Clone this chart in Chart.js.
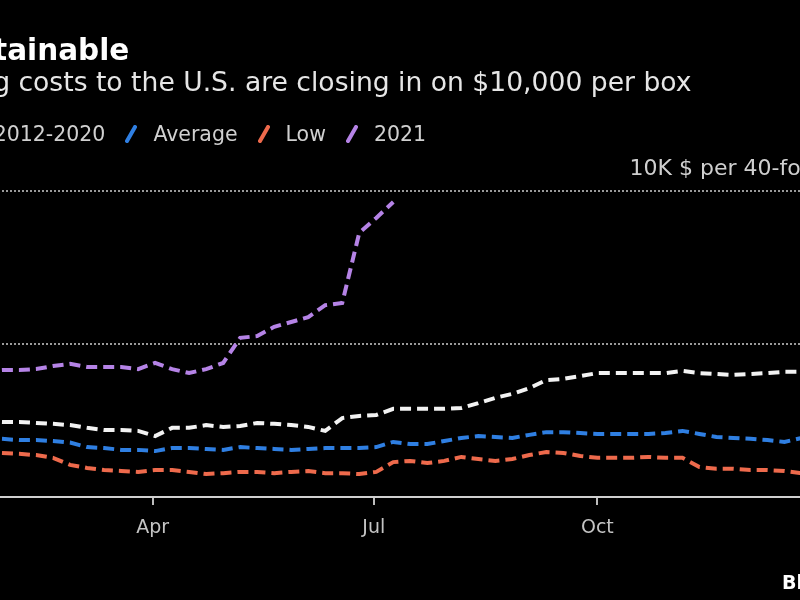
<!DOCTYPE html>
<html>
<head>
<meta charset="utf-8">
<script src="https://cdn.jsdelivr.net/npm/chart.js@4.4.1/dist/chart.umd.min.js"></script>
<style>
html, body { margin: 0; padding: 0; background: #000; }
body { width: 800px; height: 600px; overflow: hidden; position: relative; font-family: 'DejaVu Sans', sans-serif; }
#chart { position: absolute; left: -140px; top: 0; }
.title { position: absolute; left: -108px; top: 36px; font-size: 29.5px; font-weight: bold; color: #fff; line-height: 1; white-space: nowrap; }
.subtitle { position: absolute; left: -106px; top: 69px; font-size: 26.6px; color: #e6e6e6; line-height: 1; white-space: nowrap; }
#legend { position: absolute; left: -88px; top: 122px; display: flex; align-items: center; font-size: 20.5px; color: #d0d0d0; line-height: 24px; white-space: nowrap; }
.item { display: flex; align-items: center; margin-right: 20px; }
.item svg { margin-right: 16px; }
.source { position: absolute; left: 782px; top: 573px; font-size: 19px; font-weight: bold; color: #fff; line-height: 1; }
</style>
</head>
<body>
<canvas id="chart" width="1080" height="600"></canvas>
<div class="title">Unsustainable</div>
<div class="subtitle">Shipping costs to the U.S. are closing in on $10,000 per box</div>
<div id="legend"></div>
<div class="source">Bloomberg</div>
<script>
// day of year for each weekly reading
const weekDays = [0, 7, 14, 21, 28, 35, 42, 49, 56, 63, 70, 77, 84, 91, 98, 105, 112, 119, 126, 133,
    140, 147, 154, 161, 168, 175, 182, 189, 196, 203, 210, 217, 224, 231, 238, 245, 252, 259, 266, 273,
    280, 287, 294, 301, 308, 315, 322, 329, 336, 343, 350, 357, 364];

const high = [2480, 2480, 2480, 2480, 2450, 2450, 2420, 2390, 2350, 2260, 2190, 2190, 2160, 1990, 2260, 2260, 2350, 2290, 2320, 2420,
    2390, 2350, 2290, 2160, 2580, 2650, 2680, 2880, 2880, 2880, 2880, 2910, 3070, 3240, 3370, 3560, 3820, 3860, 3950, 4050,
    4050, 4050, 4050, 4050, 4120, 4050, 4020, 3990, 4020, 4050, 4090, 4090, 4090];
const average = [1930, 1930, 1930, 1930, 1900, 1860, 1860, 1830, 1780, 1630, 1600, 1540, 1540, 1500, 1600, 1600, 1570, 1540, 1630, 1600,
    1570, 1540, 1570, 1600, 1600, 1600, 1630, 1800, 1730, 1730, 1830, 1930, 1990, 1960, 1930, 2030, 2120, 2120, 2090, 2060,
    2060, 2060, 2060, 2090, 2160, 2060, 1960, 1930, 1900, 1860, 1800, 1930, 1930];
const low = [1470, 1470, 1470, 1470, 1440, 1410, 1370, 1280, 1050, 950, 880, 850, 820, 880, 880, 820, 750, 780, 820, 820,
    780, 820, 850, 780, 780, 750, 820, 1140, 1180, 1110, 1180, 1310, 1240, 1180, 1240, 1370, 1470, 1440, 1340, 1280,
    1280, 1280, 1310, 1280, 1280, 980, 920, 920, 880, 880, 850, 780, 780];
const y2021 = [4050, 4090, 4120, 4120, 4150, 4150, 4180, 4280, 4350, 4250, 4250, 4250, 4180, 4380, 4180, 4050, 4180, 4380, 5200, 5260,
    5560, 5720, 5880, 6270, 6340, 8630, 9120, 9640];

const seriesNames = ['High 2012-2020', 'Average', 'Low', '2021'];
const seriesColors = ['#f2f2f2', '#2f7fe2', '#ee6a4c', '#b583e6'];

const tickDays = [0, 90, 181, 273];
const tickNames = ['Jan', 'Apr', 'Jul', 'Oct'];
const yTicks = [0, 5000, 10000];
const yTickNames = ['0', '5', '10K $ per 40-foot container'];

const FONT = 'DejaVu Sans';

function toPoints(values) {
    return values.map((v, i) => ({ x: weekDays[i], y: v }));
}

const seriesValues = [high, average, low, y2021];

// legend, html
const legendDiv = document.getElementById('legend');
seriesNames.forEach((name, i) => {
    const item = document.createElement('div');
    item.className = 'item';
    item.innerHTML = `<svg width="12" height="18"><line x1="2" y1="16" x2="10" y2="2" stroke="${seriesColors[i]}" stroke-width="4" stroke-linecap="round"/></svg><span>${name}</span>`;
    legendDiv.appendChild(item);
});

const chart = new Chart(document.getElementById('chart'), {
    type: 'line',
    data: {
        datasets: seriesValues.map((vals, i) => ({
            label: seriesNames[i],
            data: toPoints(vals),
            borderColor: seriesColors[i],
            borderWidth: 4,
            borderDash: [11, 6],
            pointRadius: 0,
            tension: 0,
            fill: false
        }))
    },
    options: {
        responsive: false,
        animation: false,
        layout: { padding: { left: 74, top: 191, right: 0, bottom: 0 } },
        plugins: {
            legend: { display: false },
            title: { display: false },
            tooltip: { enabled: false }
        },
        scales: {
            x: {
                type: 'linear',
                min: 0,
                max: 414,
                afterBuildTicks: ax => { ax.ticks = tickDays.map(v => ({ value: v })); },
                afterFit: ax => { ax.height = 103; },
                grid: { drawOnChartArea: false, drawTicks: true, tickLength: 8, color: '#bdbdbd', lineWidth: 2 },
                border: { display: true, color: '#cfcfcf', width: 2 },
                ticks: {
                    color: '#c4c4c4',
                    font: { family: FONT, size: 19 },
                    padding: 12,
                    autoSkip: false,
                    maxRotation: 0,
                    callback: v => tickNames[tickDays.indexOf(v)]
                }
            },
            y: {
                position: 'right',
                min: 0,
                max: 10000,
                afterBuildTicks: ax => { ax.ticks = yTicks.map(v => ({ value: v })); },
                afterFit: ax => { ax.width = 0; },
                grid: {
                    drawTicks: false,
                    lineWidth: 2,
                    color: ctx => ctx.tick && ctx.tick.value === 0 ? 'rgba(0,0,0,0)' : '#9a9a9a'
                },
                border: { display: false, dash: [2, 2] },
                ticks: {
                    mirror: true,
                    padding: -6,
                    labelOffset: -22,
                    color: '#cfcfcf',
                    font: { family: FONT, size: 22 },
                    callback: v => yTickNames[yTicks.indexOf(v)]
                }
            }
        }
    }
});
</script>
</body>
</html>
